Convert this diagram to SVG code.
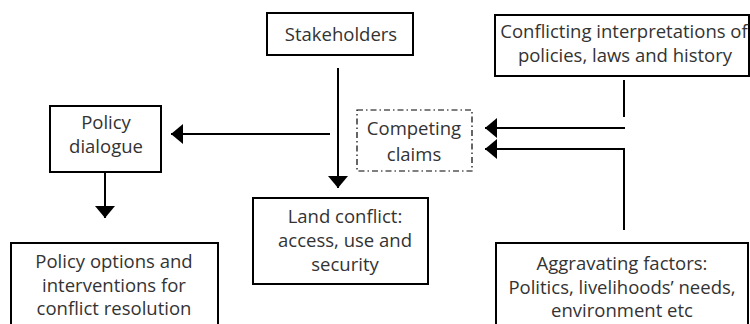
<svg xmlns="http://www.w3.org/2000/svg" width="750" height="324" viewBox="0 0 750 324">
<defs>
<style>
.box{fill:#fff;stroke:#000;stroke-width:2}
.dash{fill:#fff;stroke:#000;stroke-width:1.2;stroke-dasharray:6 3 1.5 3}
.t{font-family:"Open Sans","Noto Sans",sans-serif;font-size:18.5px;fill:#333;text-anchor:middle}
.c{fill:none;stroke:#000;stroke-width:2}
</style>
<marker id="ah" markerUnits="userSpaceOnUse" markerWidth="12" markerHeight="20" refX="12" refY="10" orient="auto">
<path d="M0,0 L12,10 L0,20 Z" fill="#000"/>
</marker>
</defs>
<rect width="750" height="324" fill="#fff"/>
<g id="connectors">
<path class="c" d="M338,68 V188" marker-end="url(#ah)"/>
<path class="c" d="M330,134 H171" marker-end="url(#ah)"/>
<path class="c" d="M105,172 V218" marker-end="url(#ah)"/>
<path class="c" d="M624,80 V117"/>
<path class="c" d="M625,128 H485" marker-end="url(#ah)"/>
<path class="c" d="M624,230 V149 H485" marker-end="url(#ah)"/>
</g>
<g id="stakeholders">
<rect class="box" x="267" y="13" width="146" height="42"/>
<text class="t" x="341" y="41">Stakeholders</text>
</g>
<g id="conflicting">
<rect class="box" x="495" y="15" width="254" height="61"/>
<text class="t" x="624" y="38">Conflicting interpretations of</text>
<text class="t" x="625" y="62">policies, laws and history</text>
</g>
<g id="competing">
<rect class="dash" x="357" y="110" width="115" height="61"/>
<text class="t" x="414" y="135">Competing</text>
<text class="t" x="414" y="161">claims</text>
</g>
<g id="policy-dialogue">
<rect class="box" x="50" y="106" width="111" height="66"/>
<text class="t" x="106" y="129">Policy</text>
<text class="t" x="106" y="153">dialogue</text>
</g>
<g id="land-conflict">
<rect class="box" x="253" y="198" width="175" height="86"/>
<text class="t" x="345" y="223">Land conflict:</text>
<text class="t" x="345" y="247">access, use and</text>
<text class="t" x="345" y="271">security</text>
</g>
<g id="policy-options">
<rect class="box" x="11" y="243" width="207" height="90"/>
<text class="t" x="114" y="268">Policy options and</text>
<text class="t" x="114" y="292">interventions for</text>
<text class="t" x="114" y="315">conflict resolution</text>
</g>
<g id="aggravating">
<rect class="box" x="496" y="243" width="252" height="90"/>
<text class="t" x="622" y="270">Aggravating factors:</text>
<text class="t" x="622" y="294">Politics, livelihoods’ needs,</text>
<text class="t" x="622" y="317">environment etc</text>
</g>
</svg>
